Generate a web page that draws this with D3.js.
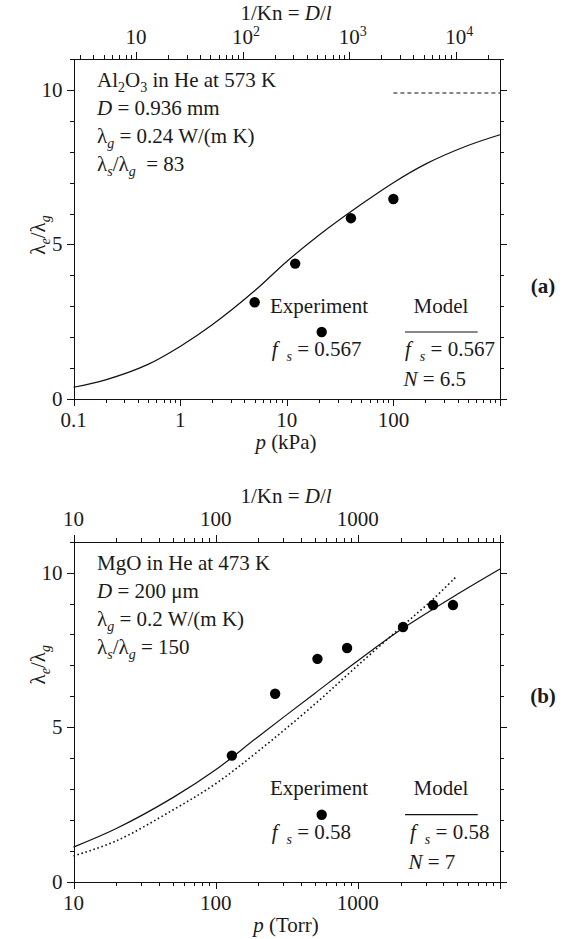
<!DOCTYPE html>
<html>
<head>
<meta charset="utf-8">
<script src="https://cdn.jsdelivr.net/npm/d3@7"></script>
<style>
  body { margin: 0; background: #fff; }
  svg text { font-family: "Liberation Serif", "Times New Roman", serif; font-size: 21px; fill: #1a1a1a; white-space: pre; }
  .axis path, .axis line { stroke: #111; stroke-width: 1; shape-rendering: crispEdges; }
</style>
</head>
<body>
<div id="chart"></div>
<script>
// panel (a): Al2O3 in He, p in kPa
var aExpP = [5, 12, 40, 100];
var aExpK = [3.13, 4.38, 5.85, 6.47];
var aModelP = [0.1, 0.2, 0.5, 1, 2, 5, 10, 20, 50, 100, 200, 500, 1000];
var aModelK = [0.38, 0.62, 1.12, 1.7, 2.4, 3.5, 4.45, 5.3, 6.3, 7.0, 7.6, 8.2, 8.55];
var aLimitP = [100, 1000];
var aLimitK = [9.9, 9.9];
var aBottomTicks = [0.1, 1, 10, 100];
var aBottomText = ["0.1", "1", "10", "100"];
var aTopTicks = [10, 100, 1000, 10000];
var aTopText = [["10", ""], ["10", "2"], ["10", "3"], ["10", "4"]];

// panel (b): MgO in He, p in Torr
var bExpP = [130, 262, 520, 840, 2080, 3380, 4670];
var bExpK = [4.08, 6.08, 7.21, 7.56, 8.24, 8.95, 8.95];
var bModelP = [10, 20, 50, 100, 200, 500, 1000, 2000, 5000, 10000];
var bModelK = [1.12, 1.72, 2.72, 3.62, 4.7, 6.1, 7.15, 8.15, 9.3, 10.12];
var bDotP = [10, 20, 50, 100, 200, 500, 1000, 2000, 3400, 4950];
var bDotK = [0.83, 1.32, 2.32, 3.17, 4.23, 5.75, 7.0, 8.22, 9.15, 9.88];
var bBottomTicks = [10, 100, 1000];
var bBottomText = ["10", "100", "1000"];
var bTopTicks = [10, 100, 1000];
var bTopText = [["10", ""], ["100", ""], ["1000", ""]];

var yTicks = [0, 5, 10];

var W = 567, H = 939;
var L = 73.5, R = 500, PH = 340;

var svg = d3.select("#chart").append("svg")
  .attr("width", W)
  .attr("height", H);

// writes text made of plain / italic / sub / sup pieces
function rich(sel, parts) {
  var shift = 0;
  parts.forEach(function(p) {
    var s = p.sub ? 5 : (p.sup ? -8 : 0);
    var ts = sel.append("tspan").text(p.t).attr("dy", s - shift);
    if (p.dx) ts.attr("dx", p.dx);
    shift = s;
    if (p.i) ts.style("font-style", "italic");
    if (p.sub || p.sup) ts.style("font-size", "14px");
  });
}

function isMajor(v) {
  var l = Math.log10(v);
  return Math.abs(l - Math.round(l)) < 1e-6;
}

function drawPanel(o) {
  var g = svg.append("g").attr("transform", "translate(0," + o.top + ")");

  var x = d3.scaleLog().domain(o.xDomain).range([L, R]);
  var xt = d3.scaleLog().domain(o.tDomain).range([L, R]);
  var y = d3.scaleLinear().domain([0, 11]).range([PH, 0]);

  var xs = x.ticks(), ts = xt.ticks(), ys = d3.range(0, 12);

  // bottom
  g.append("g").attr("class", "axis").attr("transform", "translate(0," + PH + ")")
    .call(d3.axisBottom(x).tickValues(xs.filter(function(v) { return !isMajor(v); }))
      .tickSize(4).tickSizeOuter(0).tickFormat(""));
  g.append("g").attr("class", "axis").attr("transform", "translate(0," + PH + ")")
    .call(d3.axisBottom(x).tickValues(xs.filter(isMajor)).tickSize(7).tickFormat(""))
    .select(".domain").remove();
  // top
  g.append("g").attr("class", "axis")
    .call(d3.axisTop(xt).tickValues(ts.filter(function(v) { return !isMajor(v); }))
      .tickSize(4).tickSizeOuter(0).tickFormat(""));
  g.append("g").attr("class", "axis")
    .call(d3.axisTop(xt).tickValues(ts.filter(isMajor)).tickSize(7).tickFormat(""))
    .select(".domain").remove();
  // left / right
  [["axisLeft", L], ["axisRight", R]].forEach(function(a) {
    g.append("g").attr("class", "axis").attr("transform", "translate(" + a[1] + ",0)")
      .call(d3[a[0]](y).tickValues(ys.filter(function(v) { return v % 5; }))
        .tickSize(4).tickSizeOuter(0).tickFormat(""));
    g.append("g").attr("class", "axis").attr("transform", "translate(" + a[1] + ",0)")
      .call(d3[a[0]](y).tickValues(yTicks).tickSize(7).tickFormat(""))
      .select(".domain").remove();
  });

  // tick labels
  g.selectAll(".xl").data(o.bottomTicks).enter().append("text")
    .attr("x", function(d) { return x(d); })
    .attr("y", PH + 28)
    .attr("text-anchor", "middle")
    .text(function(d, i) { return o.bottomText[i]; });
  g.selectAll(".yl").data(yTicks).enter().append("text")
    .attr("x", L - 11)
    .attr("y", function(d) { return y(d) + 7; })
    .attr("text-anchor", "end")
    .text(function(d) { return d; });
  o.topTicks.forEach(function(d, i) {
    var t = g.append("text")
      .attr("y", -15.5)
      .attr("x", o.topText[i][1] ? xt(d) - 10.5 : xt(d))
      .attr("text-anchor", o.topText[i][1] ? "start" : "middle");
    rich(t, [{ t: o.topText[i][0] }].concat(o.topText[i][1] ? [{ t: o.topText[i][1], sup: true }] : []));
  });

  // axis titles
  rich(g.append("text").attr("x", 286).attr("y", -39).attr("text-anchor", "middle"),
    [{ t: "1/Kn = " }, { t: "D", i: true }, { t: "/" }, { t: "l", i: true }]);
  rich(g.append("text").attr("x", 286).attr("y", PH + 50).attr("text-anchor", "middle"),
    [{ t: "p", i: true }, { t: " (" + o.unit + ")" }]);
  rich(g.append("text").attr("text-anchor", "middle")
      .attr("transform", "translate(45," + o.yLabelY + ") rotate(-90)"),
    [{ t: "λ" }, { t: "e", i: true, sub: true }, { t: "/λ" }, { t: "g", i: true, sub: true }]);

  // annotation block
  o.notes.forEach(function(parts, i) {
    rich(g.append("text").attr("x", 97).attr("y", y(10) - 3 + 28 * i), parts);
  });

  g.append("text")
    .attr("x", 543).attr("y", o.tagY)
    .attr("text-anchor", "middle")
    .style("font-weight", "bold")
    .text(o.tag);

  // model curves
  var line = d3.line()
    .x(function(d) { return x(d[0]); })
    .y(function(d) { return y(d[1]); })
    .curve(d3.curveCatmullRom.alpha(0.5));

  o.curves.forEach(function(c) {
    g.append("path")
      .datum(d3.zip(c.p, c.k))
      .attr("d", line)
      .attr("fill", "none")
      .attr("stroke", "#111")
      .attr("stroke-width", c.w)
      .attr("stroke-dasharray", c.dash);
  });

  g.selectAll(".pt").data(d3.zip(o.expP, o.expK)).enter().append("circle")
    .attr("cx", function(d) { return x(d[0]); })
    .attr("cy", function(d) { return y(d[1]); })
    .attr("r", 5.2)
    .attr("fill", "#000");

  // legend
  g.append("text").attr("x", 319).attr("y", 253.5).attr("text-anchor", "middle").text("Experiment");
  g.append("circle").attr("cx", 321.7).attr("cy", 273).attr("r", 5.2).attr("fill", "#000");
  rich(g.append("text").attr("x", 271.7).attr("y", 297),
    [{ t: "f", i: true }, { t: "s", i: true, sub: true, dx: 9 }, { t: " = " + o.fs }]);
  g.append("text").attr("x", 441).attr("y", 253.5).attr("text-anchor", "middle").text("Model");
  g.append("line").attr("x1", 405).attr("x2", 477.7).attr("y1", 273).attr("y2", 273)
    .attr("stroke", "#111").attr("stroke-width", 1.2);
  rich(g.append("text").attr("x", o.modelX).attr("y", 297),
    [{ t: "f", i: true }, { t: "s", i: true, sub: true, dx: 9 }, { t: " = " + o.fs }]);
  rich(g.append("text").attr("x", o.modelX - 1.5).attr("y", 327),
    [{ t: "N", i: true }, { t: " = " + o.n }]);
}

drawPanel({
  top: 59, xDomain: [0.1, 1000], tDomain: [2.6, 26000], unit: "kPa",
  bottomTicks: aBottomTicks, bottomText: aBottomText,
  topTicks: aTopTicks, topText: aTopText,
  yLabelY: 176, tag: "(a)", tagY: 234,
  notes: [
    [{ t: "Al" }, { t: "2", sub: true }, { t: "O" }, { t: "3", sub: true }, { t: " in He at 573 K" }],
    [{ t: "D", i: true }, { t: " = 0.936 mm" }],
    [{ t: "λ" }, { t: "g", i: true, sub: true }, { t: " = 0.24 W/(m K)" }],
    [{ t: "λ" }, { t: "s", i: true, sub: true }, { t: "/λ" }, { t: "g", i: true, sub: true }, { t: "  = 83" }]
  ],
  curves: [
    { p: aModelP, k: aModelK, w: 1.2, dash: null },
    { p: aLimitP, k: aLimitK, w: 1.2, dash: "4,3" }
  ],
  expP: aExpP, expK: aExpK, fs: "0.567", n: "6.5", modelX: 405
});

drawPanel({
  top: 541.7, xDomain: [10, 10000], tDomain: [10, 10000], unit: "Torr",
  bottomTicks: bBottomTicks, bottomText: bBottomText,
  topTicks: bTopTicks, topText: bTopText,
  yLabelY: 123, tag: "(b)", tagY: 161.5,
  notes: [
    [{ t: "MgO in He at 473 K" }],
    [{ t: "D", i: true }, { t: " = 200 μm" }],
    [{ t: "λ" }, { t: "g", i: true, sub: true }, { t: " = 0.2 W/(m K)" }],
    [{ t: "λ" }, { t: "s", i: true, sub: true }, { t: "/λ" }, { t: "g", i: true, sub: true }, { t: " = 150" }]
  ],
  curves: [
    { p: bModelP, k: bModelK, w: 1.2, dash: null },
    { p: bDotP, k: bDotK, w: 1.6, dash: "1.6,2.6" }
  ],
  expP: bExpP, expK: bExpK, fs: "0.58", n: "7", modelX: 410
});
</script>
</body>
</html>
